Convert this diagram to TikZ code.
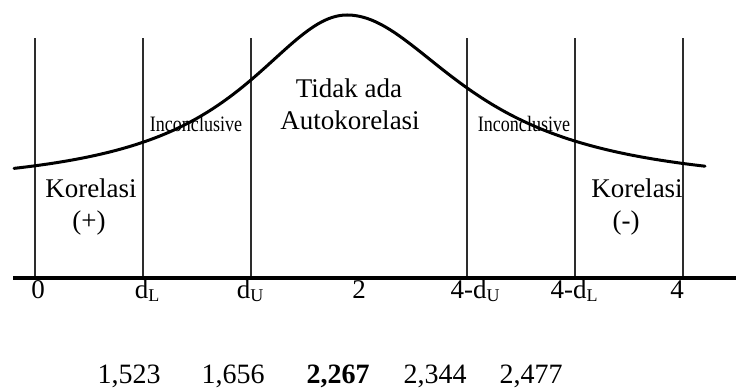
\documentclass[tikz,border=0pt]{standalone}
\usepackage{fontspec}
\setmainfont{Liberation Serif}
\usepackage{tikz}
\definecolor{gridline}{RGB}{45, 45, 45}
\newcommand{\bigtxt}{\fontsize{27}{32}\selectfont}
\newcommand{\midtxt}{\fontsize{22}{26}\selectfont}
\newcommand{\lowsub}[1]{\raisebox{-3pt}{\fontsize{18}{18}\selectfont #1}}

\begin{document}
\begin{tikzpicture}[x=1pt, y=1pt]
      \useasboundingbox (0,0) rectangle (736,390);
      % Region borders
      \foreach \x in {35,143,251,467,575,683}{
        \draw[gridline, line width=1.1pt] (\x,112) -- (\x,352);
      }
      % Main axis
      \draw[line width=3.2pt] (13,112) -- (736,112);
      % Density curve
      \draw[line width=3pt, line cap=round]
        plot[domain=14:347, samples=70, smooth] (\x, {200+175/(1+((\x-347)/125)^2)})
        -- plot[domain=347:705, samples=70, smooth] (\x, {200+175/(1+((\x-347)/142)^2)});
      % Axis labels
      \foreach \x/\name/\id in {
        38/0/zero,
        147/d\lowsub{L}/dl,
        250/d\lowsub{U}/du,
        359/2/two,
        475/4-d\lowsub{U}/fdu,
        574/4-d\lowsub{L}/fdl,
        677/4/four%
      }{
        \node[anchor=base, inner sep=0, font=\bigtxt] (ax-\id) at (\x, 91) {\name};
      }
      % Region texts
      \node[anchor=base, inner sep=0, font=\bigtxt] (korpos) at (91, 192) {Korelasi};
      \node[anchor=base, inner sep=0, font=\bigtxt] (sgnpos) at (89, 160) {(+)};
      \node[anchor=base, inner sep=0, font=\midtxt] (incl) at (196, 258) {\scalebox{0.82}[1]{Inconclusive}};
      \node[anchor=base, inner sep=0, font=\bigtxt] (tidak) at (349, 292) {Tidak ada};
      \node[anchor=base, inner sep=0, font=\bigtxt] (auto) at (350, 260) {Autokorelasi};
      \node[anchor=base, inner sep=0, font=\midtxt] (incr) at (524, 258) {\scalebox{0.82}[1]{Inconclusive}};
      \node[anchor=base, inner sep=0, font=\bigtxt] (korneg) at (637, 192) {Korelasi};
      \node[anchor=base, inner sep=0, font=\bigtxt] (sgnneg) at (626, 160) {(-)};
      % Table values
      \foreach \x/\val/\id in {129/{1,523}/a, 233/{1,656}/b, 338/{\bfseries 2,267}/c, 435/{2,344}/d, 531/{2,477}/e}{
        \node[anchor=base, inner sep=0, font=\fontsize{28}{32}\selectfont] (val-\id) at (\x, 6) {\val};
      }
    \end{tikzpicture}
\end{document}
